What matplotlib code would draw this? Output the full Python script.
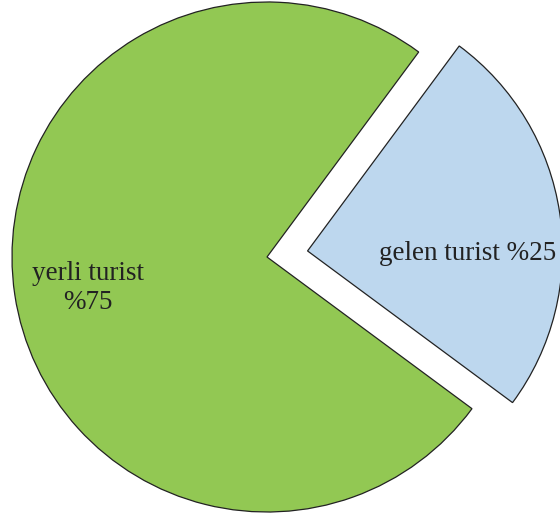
import matplotlib
matplotlib.use("Agg")
import matplotlib.pyplot as plt

categories = ["gelen turist", "yerli turist"]
values = [25, 75]
label_texts = ["gelen turist %25", "yerli turist\n%75"]
colors = ["#BDD7EE", "#92C853"]

fig = plt.figure(figsize=(5.6, 5.15), dpi=100)
ax = fig.add_axes([0, 0, 1, 1])

ax.pie(values, colors=colors, startangle=-36.5, counterclock=True,
       center=(267, 258), radius=255, explode=[41, 0],
       wedgeprops=dict(edgecolor="#222222", linewidth=0.9), frame=True)
ax.set_xlim(0, 560)
ax.set_ylim(0, 515)
ax.set_aspect("equal")
ax.axis("off")

font = dict(family=["Liberation Serif", "DejaVu Serif"], fontsize=19.5, color="#222222")
ax.text(379, 262, label_texts[0], ha="left", va="center", **font)
ax.text(88, 227, label_texts[1], ha="center", va="center", multialignment="center",
        linespacing=1.25, **font)

fig.savefig("out.png", dpi=100)
